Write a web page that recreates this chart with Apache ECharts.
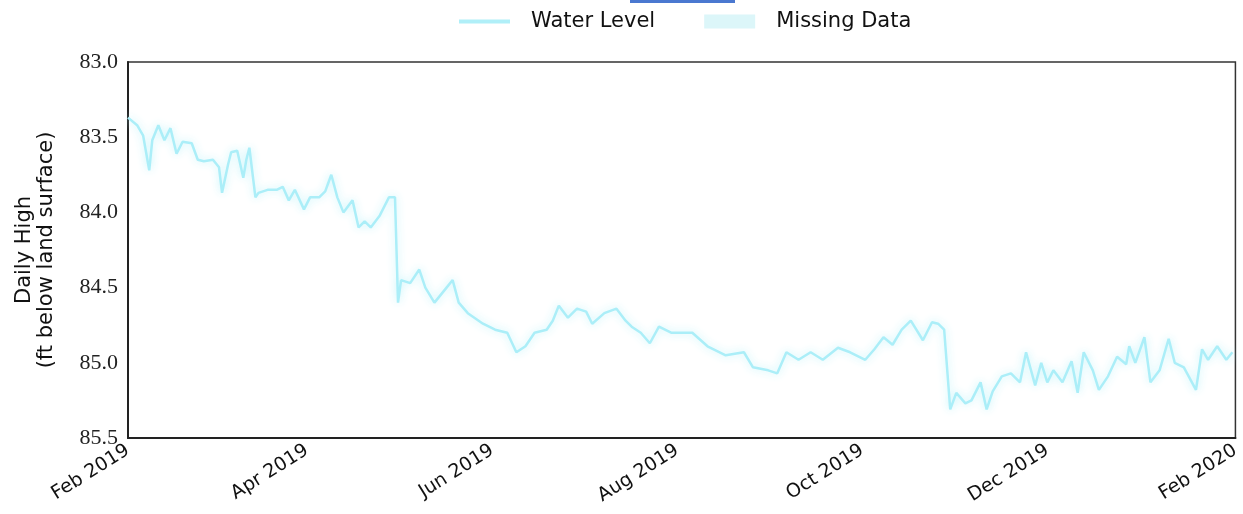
<!DOCTYPE html>
<html>
<head>
<meta charset="utf-8">
<script src="https://cdn.jsdelivr.net/npm/echarts@6/dist/echarts.min.js"></script>
<style>
html,body{margin:0;padding:0;background:#fff;}
#chart{width:1243px;height:514px;}
</style>
</head>
<body>
<div id="chart"></div>
<script>
const dates = [
'2019-02-01','2019-02-04','2019-02-06','2019-02-08','2019-02-09','2019-02-11','2019-02-13','2019-02-15','2019-02-17','2019-02-19',
'2019-02-22','2019-02-24','2019-02-26','2019-03-01','2019-03-03','2019-03-04','2019-03-06','2019-03-07','2019-03-09','2019-03-11',
'2019-03-12','2019-03-13','2019-03-15','2019-03-16','2019-03-19','2019-03-22','2019-03-24','2019-03-26','2019-03-28','2019-03-31',
'2019-04-02','2019-04-05','2019-04-07','2019-04-09','2019-04-11','2019-04-13','2019-04-16','2019-04-18','2019-04-20','2019-04-22',
'2019-04-25','2019-04-28','2019-04-30','2019-05-01','2019-05-02','2019-05-05','2019-05-08','2019-05-10','2019-05-13','2019-05-17',
'2019-05-19','2019-05-21','2019-05-24','2019-05-29','2019-06-02','2019-06-06','2019-06-09','2019-06-12','2019-06-15','2019-06-19',
'2019-06-21','2019-06-23','2019-06-26','2019-06-29','2019-07-02','2019-07-04','2019-07-08','2019-07-12','2019-07-15','2019-07-17',
'2019-07-20','2019-07-23','2019-07-26','2019-07-30','2019-08-03','2019-08-06','2019-08-11','2019-08-17','2019-08-23','2019-08-26',
'2019-08-31','2019-09-03','2019-09-06','2019-09-10','2019-09-14','2019-09-18','2019-09-23','2019-09-27','2019-10-02','2019-10-05',
'2019-10-08','2019-10-11','2019-10-14','2019-10-17','2019-10-21','2019-10-24','2019-10-26','2019-10-28','2019-10-30','2019-11-01',
'2019-11-04','2019-11-06','2019-11-09','2019-11-11','2019-11-13','2019-11-16','2019-11-19','2019-11-22','2019-11-24','2019-11-27',
'2019-11-29','2019-12-01','2019-12-03','2019-12-06','2019-12-09','2019-12-11','2019-12-13','2019-12-16','2019-12-18','2019-12-21',
'2019-12-24','2019-12-27','2019-12-28','2019-12-30','2020-01-02','2020-01-04','2020-01-07','2020-01-10','2020-01-12','2020-01-15',
'2020-01-19','2020-01-21','2020-01-23','2020-01-26','2020-01-29','2020-01-31'
];
const waterLevel = [
83.37,83.42,83.49,83.72,83.52,83.42,83.52,83.44,83.61,83.53,
83.54,83.65,83.66,83.65,83.70,83.87,83.68,83.60,83.59,83.77,
83.65,83.57,83.90,83.87,83.85,83.85,83.83,83.92,83.85,83.98,
83.90,83.90,83.86,83.75,83.90,84.00,83.92,84.10,84.06,84.10,
84.02,83.90,83.90,84.60,84.45,84.47,84.38,84.50,84.60,84.50,
84.45,84.60,84.67,84.74,84.78,84.80,84.93,84.89,84.80,84.78,
84.72,84.62,84.70,84.64,84.66,84.74,84.67,84.64,84.72,84.76,
84.80,84.87,84.76,84.80,84.80,84.80,84.89,84.95,84.93,85.03,
85.05,85.07,84.93,84.98,84.93,84.98,84.90,84.93,84.98,84.91,
84.83,84.88,84.78,84.72,84.85,84.73,84.74,84.78,85.31,85.20,
85.27,85.25,85.13,85.31,85.19,85.09,85.07,85.13,84.93,85.15,
85.00,85.13,85.05,85.13,84.99,85.20,84.93,85.05,85.18,85.09,
84.96,85.01,84.89,85.00,84.83,85.13,85.05,84.84,85.00,85.03,
85.18,84.91,84.98,84.89,84.98,84.93
];
const missingData = [];
const xTickDates = ['2019-02-01','2019-04-01','2019-06-01','2019-08-01','2019-10-01','2019-12-01','2020-02-01'];
const monthNames = ['Jan','Feb','Mar','Apr','May','Jun','Jul','Aug','Sep','Oct','Nov','Dec'];

function ts(s){ const p = s.split('-').map(Number); return Date.UTC(p[0], p[1]-1, p[2]); }

const chart = echarts.init(document.getElementById('chart'), null, {renderer:'canvas'});
chart.setOption({
  animation: false,
  backgroundColor: '#ffffff',
  graphic: [{
    type: 'rect', left: 630, top: 0,
    shape: {width: 105, height: 3},
    style: {fill: '#4a78d0'}
  }],
  legend: {
    top: 6,
    left: 454,
    itemWidth: 51,
    itemHeight: 14,
    itemGap: 49,
    textStyle: {fontFamily: 'DejaVu Sans', fontSize: 21, color: '#111', padding: [0, 0, 0, 16]},
    data: [
      {name: 'Water Level', icon: 'path://M0,5 L51,5 L51,9 L0,9 Z'},
      {name: 'Missing Data', icon: 'rect'}
    ]
  },
  grid: {
    left: 128, right: 3, top: 62, bottom: 76,
    show: true, borderColor: '#333', borderWidth: 1.5
  },
  xAxis: {
    type: 'value',
    min: ts('2019-02-01'),
    max: ts('2020-02-01'),
    axisLine: {show: true, lineStyle: {color: '#222', width: 2}},
    axisTick: {show: false},
    splitLine: {show: false},
    axisLabel: {
      customValues: xTickDates.map(ts),
      rotate: 32,
      fontFamily: 'DejaVu Sans',
      fontSize: 19,
      color: '#111',
      margin: 11,
      formatter: function(v){ const d = new Date(v); return monthNames[d.getUTCMonth()] + ' ' + d.getUTCFullYear(); }
    }
  },
  yAxis: {
    type: 'value',
    inverse: true,
    min: 83.0,
    max: 85.5,
    interval: 0.5,
    name: 'Daily High\n(ft below land surface)',
    nameLocation: 'middle',
    nameRotate: 90,
    nameGap: 70,
    nameTextStyle: {fontFamily: 'DejaVu Sans', fontSize: 21, color: '#111', lineHeight: 22},
    axisLine: {show: true, lineStyle: {color: '#222', width: 2}},
    axisTick: {show: false},
    splitLine: {show: false},
    axisLabel: {
      fontFamily: 'Liberation Serif',
      fontSize: 22,
      color: '#222',
      margin: 10,
      formatter: function(v){ return v.toFixed(1); }
    }
  },
  series: [
    {
      name: 'Water Level',
      type: 'line',
      showSymbol: false,
      symbol: 'none',
      data: dates.map((d,i) => [ts(d), waterLevel[i]]),
      color: '#b0eff8',
      lineStyle: {color: '#abeef8', width: 2.5, shadowColor: 'rgba(185,242,250,0.95)', shadowBlur: 8},
      z: 3
    },
    {
      name: 'Missing Data',
      type: 'line',
      data: missingData,
      color: '#dcf6f9',
      itemStyle: {color: '#dcf6f9'},
      areaStyle: {color: '#dcf6f9'}
    }
  ]
});
</script>
</body>
</html>
